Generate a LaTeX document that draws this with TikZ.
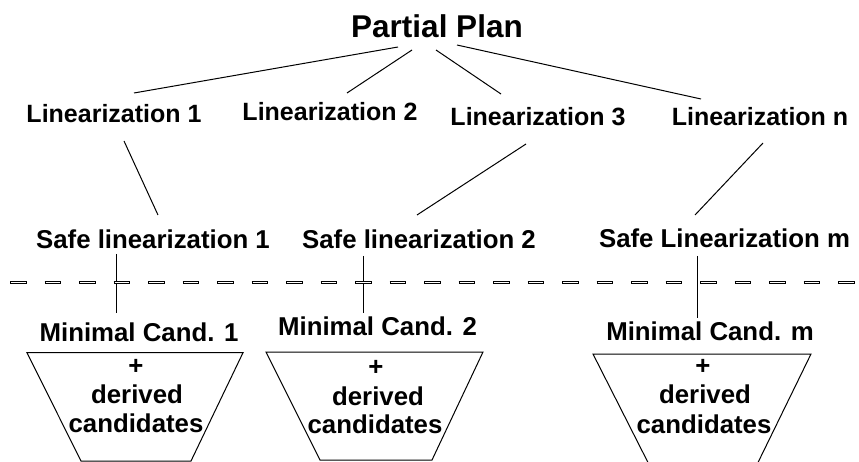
\documentclass[tikz,border=0pt]{standalone}
\usepackage{fontspec}
\setmainfont{Liberation Sans}
\begin{document}
\begin{tikzpicture}[x=1pt,y=-1pt,
  lab/.style={font=\bfseries\fontsize{25.8}{29}\selectfont, inner sep=0pt, anchor=base},
  linz/.style={lab, font=\bfseries\fontsize{25}{28}\selectfont},
  titlelab/.style={font=\bfseries\fontsize{31.5}{36}\selectfont, inner sep=0pt, anchor=base},
  conn/.style={line width=1pt, line cap=butt},
  trap/.style={line width=1pt, line join=miter}]
\useasboundingbox (0,0) rectangle (859,462);

% labels
\node[titlelab] (pp) at (437,38) {Partial Plan};
\node[linz] (l1) at (114,123) {Linearization 1};
\node[linz] (l2) at (330,121) {Linearization 2};
\node[linz] (l3) at (538,126) {Linearization 3};
\node[linz] (ln) at (760,126) {Linearization n};
\node[lab] (s1) at (153,249) {Safe linearization 1};
\node[lab] (s2) at (419,249) {Safe linearization 2};
\node[lab] (sm) at (724.5,248) {Safe Linearization m};
\node[lab] (m1) at (139,341) {Minimal Cand. 1};
\node[lab] (m2) at (377.5,335) {Minimal Cand. 2};
\node[lab] (mm) at (710,340) {Minimal Cand. m};

% connectors
\draw[conn] ([shift={(-39,9)}]pp.base) -- ([shift={(20,-30)}]l1.base);
\draw[conn] ([shift={(-25,12)}]pp.base) -- ([shift={(17,-28)}]l2.base);
\draw[conn] ([shift={(-1,12)}]pp.base) -- ([shift={(-37,-32)}]l3.base);
\draw[conn] ([shift={(20,7)}]pp.base) -- ([shift={(-59,-27)}]ln.base);
\draw[conn] ([shift={(10,18)}]l1.base) -- ([shift={(5,-34)}]s1.base);
\draw[conn] ([shift={(-12,18)}]l3.base) -- ([shift={(-2,-34)}]s2.base);
\draw[conn] ([shift={(3,17)}]ln.base) -- ([shift={(-29.5,-33)}]sm.base);
\draw[conn] ([shift={(-37,5)}]s1.base) -- ([shift={(-23,-28)}]m1.base);
\draw[conn] ([shift={(-56,7)}]s2.base) -- ([shift={(-14.5,-22)}]m2.base);
\draw[conn] ([shift={(-27.5,8)}]sm.base) -- ([shift={(-13,-22)}]mm.base);

% hollow dashed separator
\draw[line width=3.2pt, dash pattern=on 16.5pt off 18pt] (10,282.3) -- (859,282.3);
\draw[white, line width=1.2pt, dash pattern=on 14.5pt off 20pt] (11,282.3) -- (859,282.3);

% trapezoids
\draw[trap] (27,352.7) -- (243,352.7) -- (191,461) -- (81,461) -- cycle;
\draw[trap] (266,352) -- (483,352) -- (432,460) -- (320,460) -- cycle;
\draw[trap] (593,354) -- (811,354) -- (758,462.5) -- (648,462.5) -- cycle;

% trapezoid texts
\node[lab] (p1) at (136,374) {+};
\node[lab] (d1) at (137,403.5) {derived};
\node[lab] (c1) at (136,432.5) {candidates};
\node[lab] (p2) at (376,375) {+};
\node[lab] (d2) at (378,405) {derived};
\node[lab] (c2) at (375,433) {candidates};
\node[lab] (p3) at (703,374) {+};
\node[lab] (d3) at (705,403) {derived};
\node[lab] (c3) at (704,433) {candidates};
\end{tikzpicture}
\end{document}
